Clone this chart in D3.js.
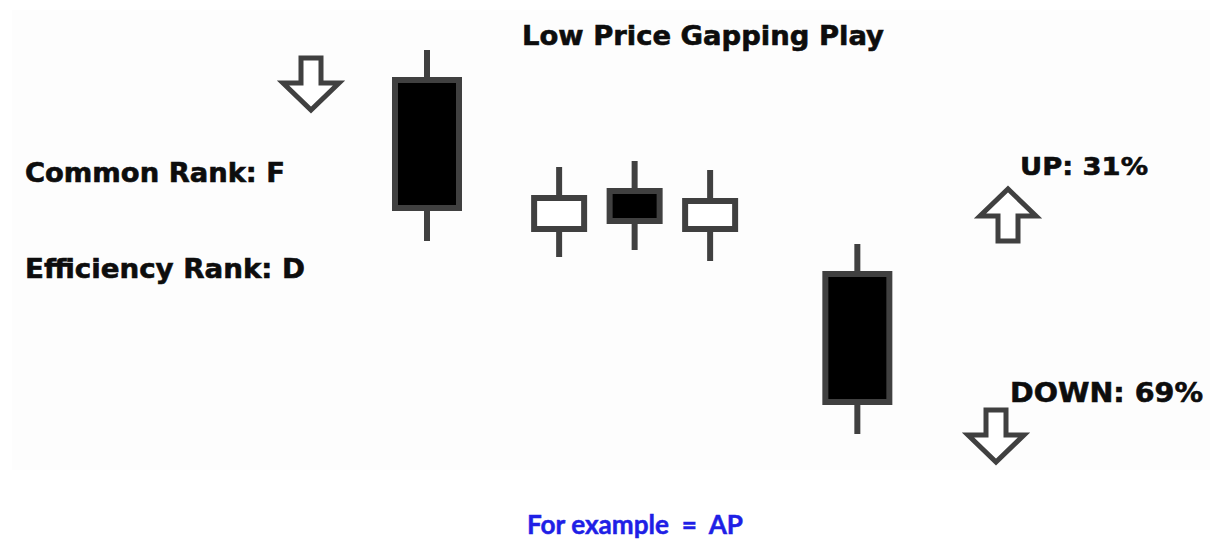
<!DOCTYPE html>
<html>
<head>
<meta charset="utf-8">
<script src="https://cdn.jsdelivr.net/npm/d3@7"></script>
<style>
  html, body { margin: 0; padding: 0; background: #fff; }
  svg { display: block; }
</style>
</head>
<body>
<div id="chart"></div>
<script>
// candle data (price units)
const candleDays = [1, 2.75, 3.75, 4.75, 6.7];
const opens  = [84.0, 54.2, 61.8, 54.2, 45.2];
const closes = [58.4, 60.4, 55.8, 59.8, 19.6];
const highs  = [90.0, 66.6, 67.8, 66.0, 51.2];
const lows   = [51.8, 48.6, 50.0, 47.8, 13.2];

const title = 'Low Price Gapping Play';
const rankLabels = ['Common Rank: F', 'Efficiency Rank: D'];
const outcomeLabels = ['UP: 31%', 'DOWN: 69%'];
const footer = 'For example  =  AP';

const width = 1214;
const height = 541;
const ink = '#404040';

const svg = d3.select('#chart')
  .append('svg')
  .attr('width', width)
  .attr('height', height);

// faint panel behind the picture
svg.append('rect')
  .attr('x', 12).attr('y', 10)
  .attr('width', 1198).attr('height', 460)
  .attr('fill', '#fdfdfd');

const x = d3.scaleLinear().domain([1, 2]).range([427, 502.5]);
const y = d3.scaleLinear().domain([0, 100]).range([500, 0]);

const candles = candleDays.map((d, i) => ({
  day: d, open: opens[i], close: closes[i], high: highs[i], low: lows[i]
}));

const g = svg.append('g').attr('class', 'candles');

const candle = g.selectAll('g')
  .data(candles)
  .enter()
  .append('g');

candle.append('line')
  .attr('x1', d => x(d.day))
  .attr('x2', d => x(d.day))
  .attr('y1', d => y(d.high))
  .attr('y2', d => y(d.low))
  .attr('stroke', ink)
  .attr('stroke-width', 6);

// long bodies are drawn wider than the small ones
const bodyWidth = d => (Math.abs(d.open - d.close) > 15 ? 64 : 50);

candle.append('rect')
  .attr('x', d => x(d.day) - bodyWidth(d) / 2)
  .attr('width', bodyWidth)
  .attr('y', d => y(Math.max(d.open, d.close)))
  .attr('height', d => Math.abs(y(d.open) - y(d.close)))
  .attr('fill', d => (d.close < d.open ? '#000' : '#fff'))
  .attr('stroke', ink)
  .attr('stroke-width', 6);

// hollow block arrows
const arrowPath = (dir) => {
  const hw = 28, sw = 10, sh = 25, hh = 27;
  const pts = [[-sw, 0], [sw, 0], [sw, sh], [hw, sh], [0, sh + hh], [-hw, sh], [-sw, sh]];
  const p = dir === 'up' ? pts.map(([a, b]) => [a, sh + hh - b]) : pts;
  return d3.line()(p) + 'Z';
};

const arrows = [
  { cx: 311, top: 58, dir: 'down' },
  { cx: 1008, top: 189, dir: 'up' },
  { cx: 996, top: 410, dir: 'down' }
];

svg.selectAll('path.arrow')
  .data(arrows)
  .enter()
  .append('path')
  .attr('class', 'arrow')
  .attr('transform', d => `translate(${d.cx},${d.top})`)
  .attr('d', d => arrowPath(d.dir))
  .attr('fill', '#fff')
  .attr('stroke', ink)
  .attr('stroke-width', 5)
  .attr('stroke-linejoin', 'miter');

const labelFont = '"DejaVu Sans", Verdana, sans-serif';

const texts = [
  { t: title, x: 522, y: 45, w: 362, size: 27 },
  { t: rankLabels[0], x: 25, y: 182, w: 260, size: 26 },
  { t: rankLabels[1], x: 25, y: 278, w: 280, size: 27 },
  { t: outcomeLabels[0], x: 1020, y: 175, w: 128, size: 25 },
  { t: outcomeLabels[1], x: 1010, y: 402, w: 193, size: 27 }
];

svg.selectAll('text.label')
  .data(texts)
  .enter()
  .append('text')
  .attr('class', 'label')
  .attr('x', d => d.x)
  .attr('y', d => d.y)
  .attr('textLength', d => d.w)
  .attr('lengthAdjust', 'spacingAndGlyphs')
  .style('font-family', labelFont)
  .style('font-weight', 'bold')
  .style('font-size', d => d.size + 'px')
  .attr('fill', '#0d0d0d')
  .attr('stroke', '#0d0d0d')
  .attr('stroke-width', 0.6)
  .text(d => d.t);

svg.append('text')
  .attr('x', 527)
  .attr('y', 534)
  .attr('textLength', 216)
  .attr('lengthAdjust', 'spacingAndGlyphs')
  .style('white-space', 'pre')
  .style('font-family', 'Lato, "Open Sans", sans-serif')
  .style('font-weight', 'bold')
  .style('font-size', '27px')
  .attr('fill', '#1f1fe6')
  .attr('stroke', '#1f1fe6')
  .attr('stroke-width', 0.5)
  .text(footer);
</script>
</body>
</html>
